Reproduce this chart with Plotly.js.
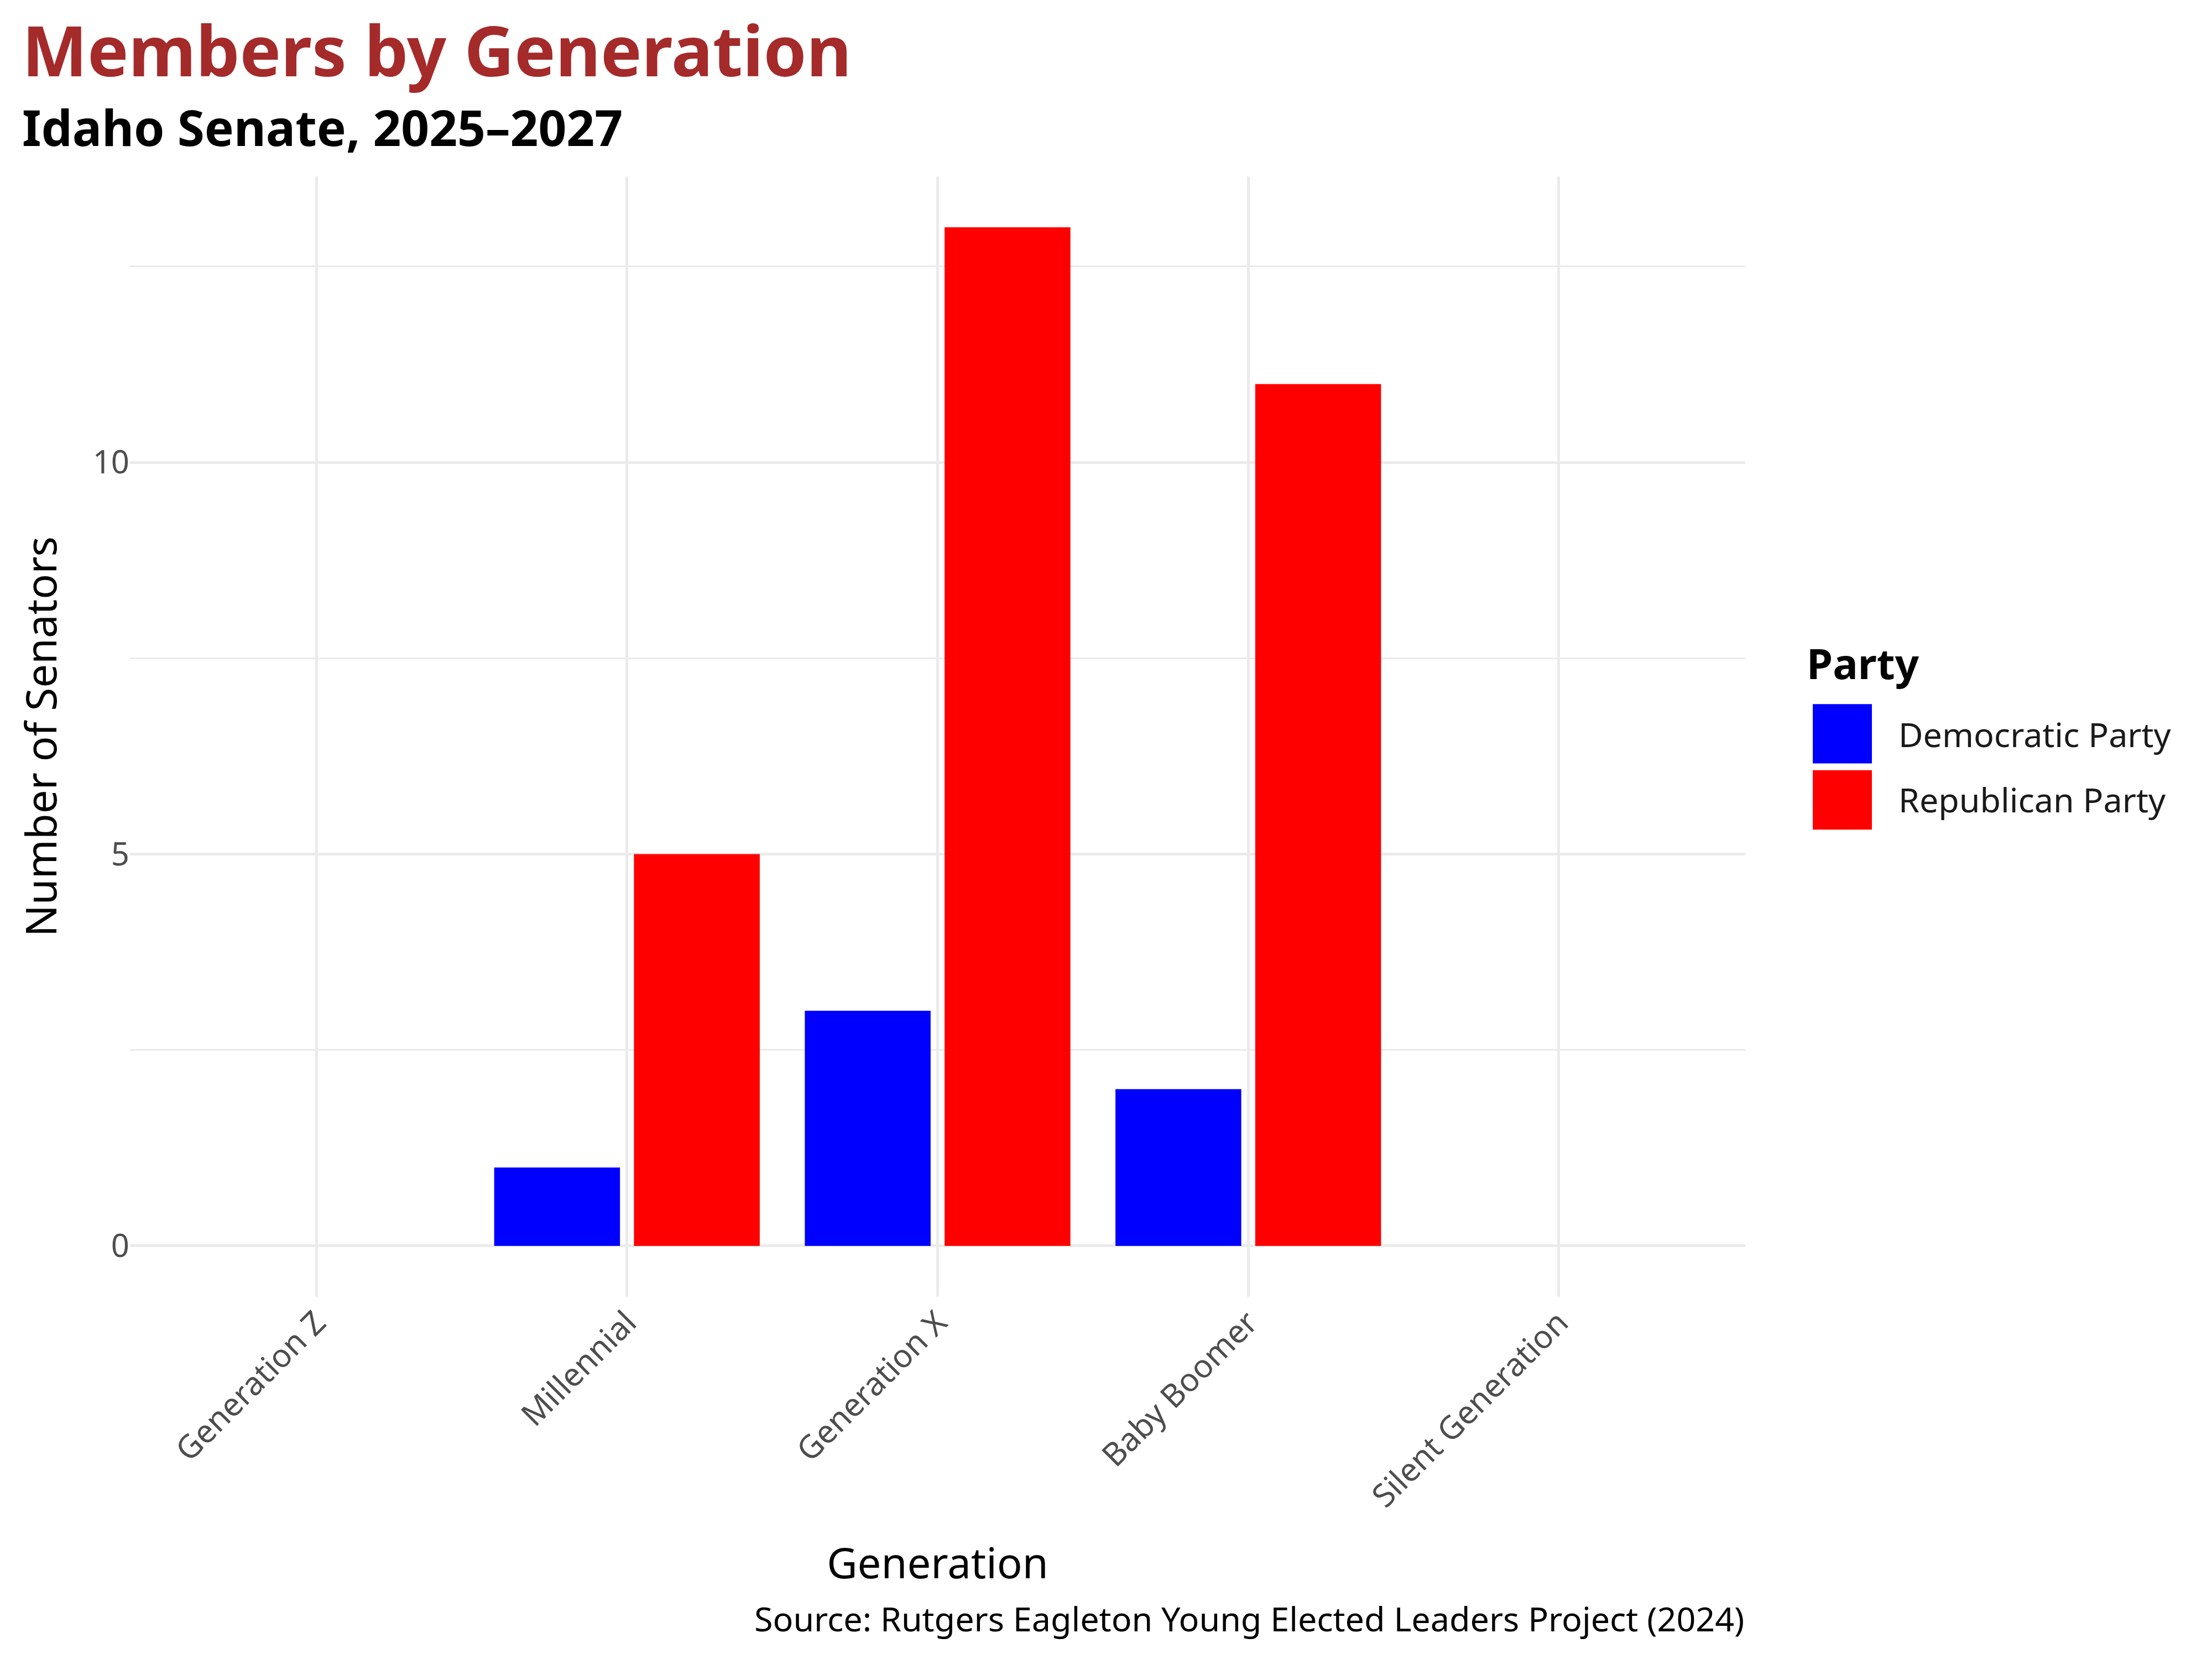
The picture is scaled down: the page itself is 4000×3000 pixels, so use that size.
<!DOCTYPE html>
<html>
<head>
<meta charset="utf-8">
<script src="https://cdn.plot.ly/plotly-3.0.1.min.js"></script>
<style>body{margin:0;background:#fff}</style>
</head>
<body>
<div id="chart" style="width:4000px;height:3000px"></div>
<script>
// Idaho Senate members by generation and party
const generations = ['Generation Z', 'Millennial', 'Generation X', 'Baby Boomer', 'Silent Generation'];
const democratic = [0, 1, 3, 2, 0];
const republican = [0, 5, 13, 11, 0];
const parties = ['Democratic Party', 'Republican Party'];
const partyColors = ['#0000ff', '#ff0000'];

const font = 'Noto Sans, sans-serif';

let data = [
  {x: generations, y: democratic, name: parties[0], type: 'bar',
   marker: {color: partyColors[0]}, showlegend: false},
  {x: generations, y: republican, name: parties[1], type: 'bar',
   marker: {color: partyColors[1]}, showlegend: false}
];

// legend drawn by hand so the keys are large squares like the reference
let keyTops = [0.529, 0.470];
let keyBottoms = [0.476, 0.417];
let labelY = [0.502, 0.444];
let shapes = parties.map((p, i) => ({
  type: 'rect', xref: 'paper', yref: 'paper',
  x0: 1.0418, x1: 1.0784, y0: keyBottoms[i], y1: keyTops[i],
  fillcolor: partyColors[i], line: {width: 0}
}));
let legendNotes = parties.map((p, i) => ({
  text: p, xref: 'paper', yref: 'paper', x: 1.094, y: labelY[i],
  xanchor: 'left', yanchor: 'middle', showarrow: false,
  font: {size: 61, color: '#1a1a1a'}
}));

let layout = {
  width: 4000, height: 3000,
  font: {family: font, size: 58, color: '#4d4d4d'},
  paper_bgcolor: '#fff', plot_bgcolor: '#fff',
  margin: {l: 235, r: 844, t: 319, b: 655},
  barmode: 'group', bargap: 0.1, bargroupgap: 0.1,
  showlegend: false,
  xaxis: {
    type: 'category', range: [-0.6, 4.6],
    tickangle: -45, ticks: '', showline: false, zeroline: false,
    showgrid: true, gridcolor: '#ebebeb', gridwidth: 5,
    tickfont: {size: 58, color: '#4d4d4d'},
    title: {text: 'Generation', font: {size: 76, color: '#000'}, standoff: 60},
    automargin: false
  },
  yaxis: {
    range: [-0.65, 13.65], tickvals: [0, 5, 10], ticks: '',
    showline: false, zeroline: false,
    showgrid: true, gridcolor: '#ebebeb', gridwidth: 5,
    minor: {tickvals: [2.5, 7.5, 12.5], showgrid: true, gridcolor: '#ebebeb', gridwidth: 3},
    tickfont: {size: 58, color: '#4d4d4d'},
    title: {text: 'Number of Senators', font: {size: 76, color: '#000'}, standoff: 40},
    automargin: false
  },
  shapes: shapes,
  annotations: [
    {text: '<b>Members by Generation</b>', xref: 'paper', yref: 'paper',
     x: -0.0674, y: 1.1135, xanchor: 'left', yanchor: 'middle', showarrow: false,
     font: {size: 125, color: '#a52a2a'}},
    {text: '<b>Idaho Senate, 2025–2027</b>', xref: 'paper', yref: 'paper',
     x: -0.0674, y: 1.044, xanchor: 'left', yanchor: 'middle', showarrow: false,
     font: {size: 89, color: '#000'}},
    {text: 'Source: Rutgers Eagleton Young Elected Leaders Project (2024)', xref: 'paper', yref: 'paper',
     x: 1, y: -0.287, xanchor: 'right', yanchor: 'middle', showarrow: false,
     font: {size: 61, color: '#000'}},
    {text: '<b>Party</b>', xref: 'paper', yref: 'paper',
     x: 1.0374, y: 0.566, xanchor: 'left', yanchor: 'middle', showarrow: false,
     font: {size: 76, color: '#000'}}
  ].concat(legendNotes)
};

Plotly.newPlot('chart', data, layout, {displayModeBar: false});
</script>
</body>
</html>
